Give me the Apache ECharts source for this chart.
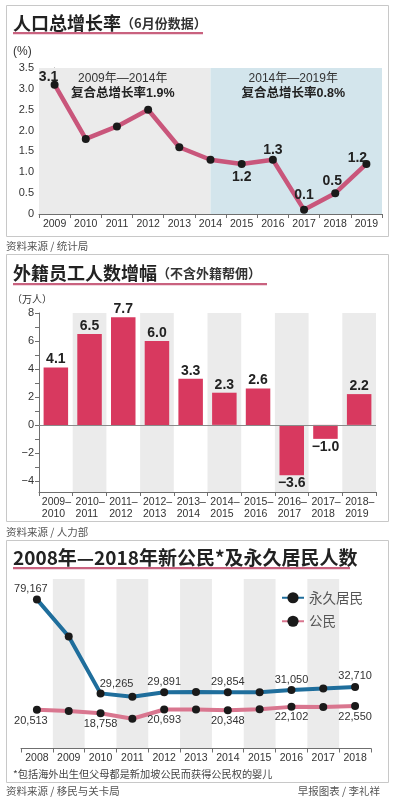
<!DOCTYPE html>
<html>
<head>
<meta charset="utf-8">
<script src="https://cdn.jsdelivr.net/npm/echarts@6/dist/echarts.min.js"></script>
<style>
html,body{margin:0;padding:0;background:#fff;}
#c{width:395px;height:800px;}
</style>
</head>
<body>
<div id="c"></div>
<script>
// ---------- data ----------
const growthYears = ['2009','2010','2011','2012','2013','2014','2015','2016','2017','2018','2019'];
const growthRates = [3.1, 1.8, 2.1, 2.5, 1.6, 1.3, 1.2, 1.3, 0.1, 0.5, 1.2];
const growthPeriodNotes = [['2009年—2014年','复合总增长率1.9%'], ['2014年—2019年','复合总增长率0.8%']];

const workerPeriods = ['2009–2010','2010–2011','2011–2012','2012–2013','2013–2014','2014–2015','2015–2016','2016–2017','2017–2018','2018–2019'];
const workerChange = [4.1, 6.5, 7.7, 6.0, 3.3, 2.3, 2.6, -3.6, -1.0, 2.2];
const workerTicks = [-4, -2, 0, 2, 4, 6, 8];

const residentYears = ['2008','2009','2010','2011','2012','2013','2014','2015','2016','2017','2018'];
const permanentResidents = [79167, 59460, 29265, 27521, 29891, 30001, 29854, 29842, 31050, 31849, 32710];
const newCitizens = [20513, 19928, 18758, 15777, 20693, 20700, 20348, 20815, 22102, 22076, 22550];

// ---------- styling helpers ----------
const FONT = "'Liberation Sans','Noto Sans CJK SC',sans-serif";
const CJK = "'Noto Sans CJK SC','Liberation Sans',sans-serif";
const minus = v => (v < 0 ? '\u2212' : '') + Math.abs(v);
const fmt1 = v => (v < 0 ? '\u2212' : '') + Math.abs(v).toFixed(1);
const comma = v => String(v).replace(/\B(?=(\d{3})+(?!\d))/g, ',');

const growthLabelStyle = {
  0: {position: 'top', offset: [-6, 3]},
  6: {position: 'bottom', offset: [0, 2]},
  7: {position: 'top', offset: [0, 1]},
  8: {position: 'top', offset: [0, -4]},
  9: {position: 'top', offset: [-3, -1]},
  10: {position: 'top', offset: [-9, 5]}
};
const prLabelOffset = {0: [-6, 0], 2: [16, 1]};
const citLabelOffset = {0: [-6, 1]};

const growthData = growthRates.map((v, i) => {
  const item = {value: [i, v]};
  const s = growthLabelStyle[i];
  item.label = s ? {show: true, position: s.position, offset: s.offset, distance: 0} : {show: false};
  return item;
});
const workerData = workerChange.map(v => ({
  value: v,
  label: {position: v < 0 ? 'bottom' : 'top'}
}));
const prData = permanentResidents.map((v, i) => ({
  value: v,
  label: {show: i % 2 === 0, offset: prLabelOffset[i] || [0, 0]}
}));
const citData = newCitizens.map((v, i) => ({
  value: v,
  label: {show: i % 2 === 0, offset: citLabelOffset[i] || [0, 0]}
}));

const axisGray = '#6f6f6f';
const chart = echarts.init(document.getElementById('c'), null, {renderer: 'canvas'});

const option = {
  backgroundColor: '#ffffff',
  animation: false,
  textStyle: {fontFamily: FONT},
  grid: [
    {left: 39, right: 13, top: 68, bottom: 586},
    {left: 39, right: 19, top: 313, bottom: 308},
    {left: 21, right: 24, top: 579, bottom: 51.5}
  ],
  legend: {
    data: ['永久居民', '公民'],
    orient: 'vertical',
    left: 276,
    top: 586,
    itemWidth: 22,
    itemHeight: 14,
    itemGap: 10,
    textStyle: {fontSize: 13.5, color: '#555', fontFamily: CJK}
  },
  xAxis: [
    {
      gridIndex: 0, type: 'category', data: growthYears, boundaryGap: true,
      axisLine: {lineStyle: {color: axisGray}},
      axisTick: {show: true, length: 4, lineStyle: {color: axisGray}},
      axisLabel: {interval: 0, fontSize: 10.5, color: '#333', margin: 5}
    },
    {gridIndex: 0, type: 'value', min: -0.5, max: 10.5, show: false},
    {
      gridIndex: 1, type: 'category', data: workerPeriods, boundaryGap: true,
      axisLine: {onZero: false, lineStyle: {color: axisGray}},
      axisTick: {show: true, length: 4, lineStyle: {color: axisGray}},
      axisLabel: {
        interval: 0, margin: 4, color: '#333',
        formatter: v => { const p = v.split('–'); return '{a|' + p[0] + '–}\n{a|' + p[1] + '}'; },
        rich: {a: {width: 28, align: 'left', fontSize: 10.5, lineHeight: 12, color: '#333'}}
      },
      splitArea: {show: true, interval: 0, areaStyle: {color: ['rgba(255,255,255,0)', '#ebebeb']}}
    },
    {
      gridIndex: 2, type: 'category', data: residentYears, boundaryGap: true,
      axisLine: {lineStyle: {color: axisGray}},
      axisTick: {show: true, length: 4, lineStyle: {color: axisGray}},
      axisLabel: {interval: 0, fontSize: 10.5, color: '#333', margin: 4},
      splitArea: {show: true, interval: 0, areaStyle: {color: ['rgba(255,255,255,0)', '#ebebeb']}}
    }
  ],
  yAxis: [
    {
      gridIndex: 0, type: 'value', min: 0, max: 3.5, interval: 0.5,
      axisLine: {show: true, lineStyle: {color: axisGray}},
      axisTick: {show: true, length: 4, lineStyle: {color: axisGray}},
      splitLine: {show: false},
      axisLabel: {fontSize: 11, color: '#333', margin: 5, formatter: v => v === 0 ? '0' : v.toFixed(1)}
    },
    {
      gridIndex: 1, type: 'value', min: -4.8, max: 8,
      axisLine: {show: true, lineStyle: {color: axisGray}},
      axisTick: {show: true, length: 4, lineStyle: {color: axisGray},
        customValues: [-4, -3, -2, -1, 0, 1, 2, 3, 4, 5, 6, 7, 8]},
      splitLine: {show: false},
      axisLabel: {fontSize: 11, color: '#333', margin: 5, customValues: workerTicks, formatter: v => minus(v)}
    },
    {gridIndex: 2, type: 'value', min: 0, max: 90000, show: false}
  ],
  series: [
    {
      name: 'shade', type: 'line', xAxisIndex: 1, yAxisIndex: 0, z: 1, silent: true,
      data: growthRates.map((v, i) => [i, v]), showSymbol: false, symbol: 'none',
      lineStyle: {opacity: 0}, tooltip: {show: false},
      markArea: {
        silent: true,
        data: [
          [{xAxis: -0.5, yAxis: 3.5, itemStyle: {color: '#ebebeb'},
            label: {offset: [-2, 0], formatter: '{t|' + growthPeriodNotes[0][0] + '}\n{b|' + growthPeriodNotes[0][1] + '}'}},
           {xAxis: 5, yAxis: 0}],
          [{xAxis: 5, yAxis: 3.5, itemStyle: {color: '#d3e5ec'},
            label: {offset: [-3, 0], formatter: '{t|' + growthPeriodNotes[1][0] + '}\n{b|' + growthPeriodNotes[1][1] + '}'}},
           {xAxis: 10.5, yAxis: 0}]
        ],
        label: {
          show: true, position: 'insideTop', distance: 3,
          rich: {
            t: {fontSize: 12, color: '#333', lineHeight: 15, fontFamily: FONT},
            b: {fontSize: 12.5, fontWeight: 'bold', color: '#222', lineHeight: 15, fontFamily: FONT}
          }
        }
      }
    },
    {
      name: 'growth', type: 'line', xAxisIndex: 1, yAxisIndex: 0, z: 3,
      data: growthData,
      symbol: 'circle', symbolSize: 8,
      itemStyle: {color: '#1a1a1a'},
      lineStyle: {color: '#c9567b', width: 4.5},
      label: {fontSize: 14, fontWeight: 'bold', color: '#222', formatter: p => p.value[1].toFixed(1)}
    },
    {
      name: 'workers', type: 'bar', xAxisIndex: 2, yAxisIndex: 1, z: 3,
      data: workerData, barWidth: 24.5,
      itemStyle: {color: '#d8395f'},
      label: {show: true, distance: 1, fontSize: 14, fontWeight: 'bold', color: '#222', formatter: p => fmt1(p.value)},
      markLine: {
        silent: true, symbol: ['none', 'none'],
        lineStyle: {color: '#8a8a8a', width: 1.2, type: 'solid'},
        label: {show: false},
        data: [{yAxis: 0}]
      }
    },
    {
      name: '永久居民', type: 'line', xAxisIndex: 3, yAxisIndex: 2, z: 3,
      data: prData, symbol: 'circle', symbolSize: 8,
      itemStyle: {color: '#1a1a1a'},
      lineStyle: {color: '#1f6e9c', width: 4},
      label: {position: 'top', distance: 1, fontSize: 11, color: '#333', formatter: p => comma(p.value)}
    },
    {
      name: '公民', type: 'line', xAxisIndex: 3, yAxisIndex: 2, z: 3,
      data: citData, symbol: 'circle', symbolSize: 8,
      itemStyle: {color: '#1a1a1a'},
      lineStyle: {color: '#d9768f', width: 4},
      label: {position: 'bottom', distance: 1, fontSize: 11, color: '#333', formatter: p => comma(p.value)}
    }
  ],
  graphic: [
    // panel frames
    {type: 'rect', z: 0, silent: true, shape: {x: 6.5, y: 5.5, width: 382, height: 231}, style: {fill: 'none', stroke: '#c8c8c8', lineWidth: 1}},
    {type: 'rect', z: 0, silent: true, shape: {x: 6.5, y: 254.5, width: 382, height: 267}, style: {fill: 'none', stroke: '#c8c8c8', lineWidth: 1}},
    {type: 'rect', z: 0, silent: true, shape: {x: 6.5, y: 540.5, width: 382, height: 242}, style: {fill: 'none', stroke: '#c8c8c8', lineWidth: 1}},
    // underlines
    {type: 'rect', z: 5, silent: true, shape: {x: 13, y: 32, width: 190, height: 2.2}, style: {fill: '#c9627f'}},
    {type: 'rect', z: 5, silent: true, shape: {x: 13, y: 283, width: 254, height: 2.2}, style: {fill: '#c9627f'}},
    {type: 'rect', z: 5, silent: true, shape: {x: 13, y: 567, width: 337, height: 2.2}, style: {fill: '#c9627f'}},
    // titles
    {type: 'text', z: 10, silent: true, x: 13, y: 23, style: {
      text: '{a|人口总增长率}{b|（6月份数据）}', verticalAlign: 'middle',
      rich: {a: {fontSize: 18, fontWeight: 'bold', fontFamily: CJK, fill: '#222'},
             b: {fontSize: 13, fontWeight: 'bold', fontFamily: CJK, fill: '#333'}}}},
    {type: 'text', z: 10, silent: true, x: 13, y: 273, style: {
      text: '{a|外籍员工人数增幅}{b|（不含外籍帮佣）}', verticalAlign: 'middle',
      rich: {a: {fontSize: 18, fontWeight: 'bold', fontFamily: CJK, fill: '#222'},
             b: {fontSize: 13, fontWeight: 'bold', fontFamily: CJK, fill: '#333'}}}},
    {type: 'text', z: 10, silent: true, x: 13, y: 558, style: {
      text: '2008年—2018年新公民*及永久居民人数', verticalAlign: 'middle',
      font: 'bold 19px ' + CJK, fill: '#222'}},
    // unit labels
    {type: 'text', z: 10, silent: true, x: 13, y: 52, style: {text: '(%)', verticalAlign: 'middle', font: '12px ' + FONT, fill: '#333'}},
    {type: 'text', z: 10, silent: true, x: 12, y: 299, style: {text: '（万人）', verticalAlign: 'middle', font: '10px ' + CJK, fill: '#333'}},
    // footnote and sources
    {type: 'text', z: 10, silent: true, x: 13, y: 774, style: {text: '*包括海外出生但父母都是新加坡公民而获得公民权的婴儿', verticalAlign: 'middle', font: '10.2px ' + CJK, fill: '#444'}},
    {type: 'text', z: 10, silent: true, x: 6, y: 246, style: {text: '资料来源 / 统计局', verticalAlign: 'middle', font: '10.5px ' + CJK, fill: '#555'}},
    {type: 'text', z: 10, silent: true, x: 6, y: 532, style: {text: '资料来源 / 人力部', verticalAlign: 'middle', font: '10.5px ' + CJK, fill: '#555'}},
    {type: 'text', z: 10, silent: true, x: 6, y: 791, style: {text: '资料来源 / 移民与关卡局', verticalAlign: 'middle', font: '10.5px ' + CJK, fill: '#555'}},
    {type: 'text', z: 10, silent: true, x: 380, y: 791, style: {text: '早报图表 / 李礼祥', align: 'right', verticalAlign: 'middle', font: '10.5px ' + CJK, fill: '#555'}}
  ]
};
chart.setOption(option);
</script>
</body>
</html>
